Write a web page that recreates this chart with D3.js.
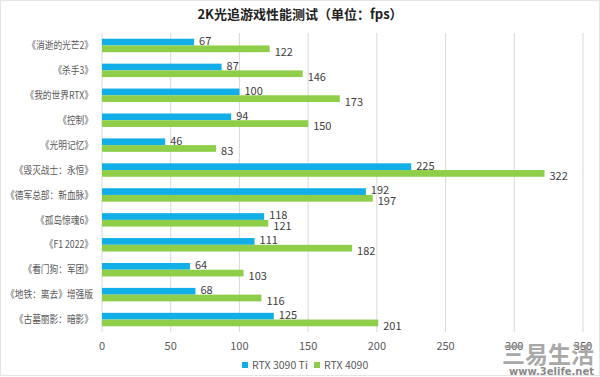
<!DOCTYPE html>
<html>
<head>
<meta charset="utf-8">
<script src="https://cdn.jsdelivr.net/npm/d3@7"></script>
<style>
  body { margin: 0; background: #fff; }
  svg { display: block; font-family: "Noto Sans CJK SC", "Open Sans", sans-serif; }
</style>
</head>
<body>
<div class="chart-area"></div>
<script>
// 2K ray tracing bar chart

const games = ["《消逝的光芒2》", "《杀手3》", "《我的世界RTX》", "《控制》", "《光明记忆》",
  "《毁灭战士：永恒》", "《德军总部：新血脉》", "《孤岛惊魂6》", "《F1 2022》",
  "《看门狗：军团》", "《地铁：离去》增强版", "《古墓丽影：暗影》"];
const rtx3090ti = [67, 87, 100, 94, 46, 225, 192, 118, 111, 64, 68, 125];
const rtx4090 = [122, 146, 173, 150, 83, 322, 197, 121, 182, 103, 116, 201];
const seriesNames = ["RTX 3090 Ti", "RTX 4090"];
const xTicks = [0, 50, 100, 150, 200, 250, 300, 350];

const width = 600, height = 377;
const margin = { left: 102, right: 17, top: 33, bottom: 45 };
const colors = ["#12aee8", "#8fce48"];

const svg = d3.select(".chart-area").append("svg")
  .attr("width", width)
  .attr("height", height);

svg.append("rect")
  .attr("x", 0.5).attr("y", 0.5)
  .attr("width", width - 1).attr("height", height - 2)
  .attr("fill", "#fff")
  .attr("stroke", "#e4e4e4");

const x = d3.scaleLinear()
  .domain([0, 350])
  .range([margin.left, width - margin.right]);

const y = d3.scaleBand()
  .domain(games)
  .range([margin.top, height - margin.bottom])
  .paddingInner(0.46)
  .paddingOuter(0.23);

const sub = d3.scaleBand()
  .domain([0, 1])
  .range([0, y.bandwidth()]);

// gridlines
svg.append("g")
  .selectAll("line")
  .data(xTicks)
  .join("line")
  .attr("x1", d => x(d)).attr("x2", d => x(d))
  .attr("y1", margin.top).attr("y2", height - margin.bottom)
  .attr("stroke", "#d9d9d9")
  .attr("stroke-width", 1);

// tick labels
svg.append("g")
  .selectAll("text")
  .data(xTicks)
  .join("text")
  .attr("x", d => x(d))
  .attr("y", height - margin.bottom + 18)
  .attr("text-anchor", "middle")
  .style("font-size", "11px")
  .attr("fill", "#595959")
  .text(d => d);

// category labels - squeezed horizontally, source font is narrower
const squeeze = 0.83;
svg.append("g")
  .attr("transform", `translate(${margin.left - 9}, 0) scale(${squeeze}, 1)`)
  .selectAll("text")
  .data(games)
  .join("text")
  .attr("x", 0)
  .attr("y", d => y(d) + y.bandwidth() / 2)
  .attr("dy", "0.35em")
  .attr("text-anchor", "end")
  .style("font-size", "10.5px")
  .attr("fill", "#595959")
  .text(d => d);

// bars + value labels
[rtx3090ti, rtx4090].forEach((vals, i) => {
  const g = svg.append("g");
  g.selectAll("rect")
    .data(vals)
    .join("rect")
    .attr("x", x(0))
    .attr("y", (d, j) => y(games[j]) + sub(i))
    .attr("width", d => x(d) - x(0))
    .attr("height", sub.bandwidth())
    .attr("fill", colors[i]);

  g.selectAll("text")
    .data(vals)
    .join("text")
    .attr("x", d => x(d) + 5)
    .attr("y", (d, j) => y(games[j]) + sub(i) + sub.bandwidth() / 2 + (i === 0 ? -1 : 3))
    .attr("dy", "0.35em")
    .style("font-size", "11px")
    .attr("fill", "#404040")
    .text(d => d);
});

// title
svg.append("text")
  .attr("x", 300)
  .attr("y", 19)
  .attr("text-anchor", "middle")
  .style("font-size", "13px")
  .style("font-weight", "bold")
  .attr("fill", "#222")
  .text("2K光追游戏性能测试（单位：fps）");

// legend
const legend = svg.append("g").attr("transform", "translate(242, 365)");
const legendX = [0, 72];
seriesNames.forEach((name, i) => {
  legend.append("rect")
    .attr("x", legendX[i]).attr("y", -3)
    .attr("width", 6).attr("height", 6)
    .attr("fill", colors[i]);
  legend.append("text")
    .attr("x", legendX[i] + 10).attr("y", 0)
    .attr("dy", "0.35em")
    .style("font-size", "10.5px")
    .attr("fill", "#595959")
    .text(name);
});

// watermark
svg.append("text")
  .attr("x", 594).attr("y", 363)
  .attr("text-anchor", "end")
  .style("font-size", "23px")
  .style("font-weight", "bold")
  .attr("fill", "#9a9a9a")
  .attr("opacity", 0.85)
  .text("三易生活");
svg.append("text")
  .attr("x", 594).attr("y", 375)
  .attr("text-anchor", "end")
  .style("font-family", "DejaVu Sans")
  .style("font-size", "10px")
  .style("font-weight", "bold")
  .attr("fill", "#8a8a8a")
  .text("www.3elife.net");
</script>
</body>
</html>
